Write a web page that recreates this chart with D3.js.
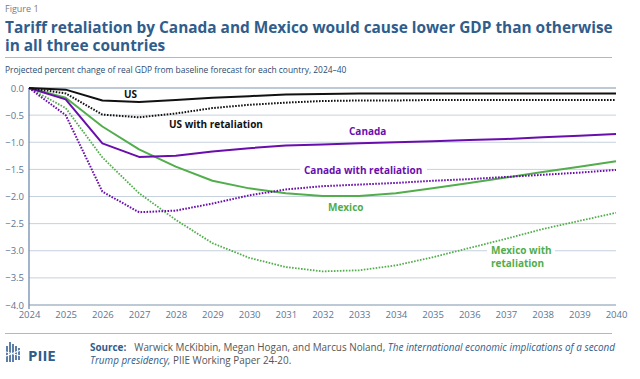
<!DOCTYPE html>
<html><head><meta charset="utf-8">
<script src="https://cdn.jsdelivr.net/npm/d3@7"></script>
<style>
html,body{margin:0;padding:0;background:#fff;}
svg{display:block;font-family:"Open Sans",Lato,sans-serif;}
</style></head>
<body>
<svg id="chart" width="640" height="379"></svg>
<script>
const years = [2024,2025,2026,2027,2028,2029,2030,2031,2032,2033,2034,2035,2036,2037,2038,2039,2040];
const us        = [0,-0.03,-0.23,-0.26,-0.22,-0.18,-0.15,-0.12,-0.11,-0.10,-0.10,-0.10,-0.10,-0.10,-0.10,-0.10,-0.10];
const usRet     = [0,-0.10,-0.49,-0.54,-0.47,-0.37,-0.31,-0.27,-0.24,-0.23,-0.23,-0.22,-0.22,-0.22,-0.22,-0.22,-0.22];
const canada    = [0,-0.21,-1.02,-1.27,-1.25,-1.17,-1.11,-1.06,-1.04,-1.02,-1.00,-0.98,-0.96,-0.94,-0.91,-0.88,-0.85];
const canadaRet = [0,-0.50,-1.91,-2.29,-2.26,-2.13,-1.98,-1.87,-1.81,-1.78,-1.75,-1.71,-1.68,-1.64,-1.60,-1.56,-1.51];
const mexico    = [0,-0.18,-0.71,-1.13,-1.45,-1.71,-1.85,-1.94,-1.99,-1.99,-1.94,-1.85,-1.75,-1.65,-1.55,-1.45,-1.35];
const mexicoRet = [0,-0.37,-1.28,-1.94,-2.43,-2.86,-3.13,-3.30,-3.38,-3.36,-3.27,-3.12,-2.95,-2.78,-2.60,-2.45,-2.30];
const yTicks = [0,-0.5,-1,-1.5,-2,-2.5,-3,-3.5,-4];

const BLUE = "#2f5d8c", PURPLE = "#6a0dad", GREEN = "#52ad4c", BLACK = "#111111";
const svg = d3.select("#chart");
const x = d3.scaleLinear().domain([2024,2040]).range([29,616]);
const y = d3.scaleLinear().domain([-4,0]).range([305,88]);

function fitNode(node, fs, target){
  const w = node.getComputedTextLength();
  return fs*target/w;
}

// header
svg.append("text").attr("x",5).attr("y",12).attr("font-size",9).attr("fill","#7a7a7a").text("Figure 1");
const title = svg.append("text").attr("font-size",16).attr("font-weight",700).attr("fill",BLUE);
const tl1 = title.append("tspan").attr("x",5).attr("y",33)
  .text("Tariff retaliation by Canada and Mexico would cause lower GDP than otherwise");
const tfs = fitNode(tl1.node(), 16, 608);
title.attr("font-size", tfs.toFixed(2));
title.append("tspan").attr("x",5).attr("y",50.5).text("in all three countries");
svg.append("line").attr("x1",5).attr("x2",612).attr("y1",57.5).attr("y2",57.5).attr("stroke","#aab9cc").attr("stroke-width",1);
const sub = svg.append("text").attr("x",5).attr("y",73).attr("font-size",10).attr("fill","#2b4a6f")
  .text("Projected percent change of real GDP from baseline forecast for each country, 2024\u201340");
sub.attr("font-size", fitNode(sub.node(), 10, 342).toFixed(2));

// grid
const g = svg.append("g");
g.selectAll("line.grid").data(yTicks).join("line")
  .attr("x1",29).attr("x2",616).attr("y1",d=>y(d)).attr("y2",d=>y(d))
  .attr("stroke",d=> (d===0||d===-4) ? "#a9b7c9" : "#c6d1de").attr("stroke-width",d=> (d===0||d===-4)?1.6:1);
g.append("line").attr("x1",29).attr("x2",29).attr("y1",y(0)).attr("y2",y(-4)+4).attr("stroke","#6f8db0").attr("stroke-width",1.3);

// axes labels
const yAxis = d3.axisLeft(y).tickValues(yTicks).tickSize(0).tickPadding(5).tickFormat(d3.format(".1f"));
const ya = svg.append("g").attr("transform","translate(29,0)").call(yAxis);
ya.select(".domain").remove();
ya.selectAll("text").attr("font-size",9.5).attr("fill","#5b7696").attr("font-family","'Open Sans',sans-serif")
  .text(d=> d===0 ? "0.0" : "\u2212"+Math.abs(d).toFixed(1));
const xAxis = d3.axisBottom(x).tickValues(years).tickSize(0).tickPadding(6).tickFormat(d3.format("d"));
const xa = svg.append("g").attr("transform","translate(0,305)").call(xAxis);
xa.select(".domain").remove();
xa.selectAll("text").attr("font-size",9.5).attr("fill","#5b7696").attr("font-family","'Open Sans',sans-serif");

// label backgrounds (break gridlines)
function bg(cx, cy, w, h){ svg.append("rect").attr("x",cx).attr("y",cy).attr("width",w).attr("height",h).attr("fill","#fff"); }
bg(300,164,127,10);
bg(487,246,68,10);

// lines
const line = d3.line().x((d,i)=>x(years[i])).y(d=>y(d));
const series = [
  {v:mexicoRet, c:GREEN, dash:"1.6,1.4", w:1.8},
  {v:mexico, c:GREEN, dash:null, w:2},
  {v:canadaRet, c:PURPLE, dash:"1.6,1.4", w:2},
  {v:canada, c:PURPLE, dash:null, w:2},
  {v:usRet, c:BLACK, dash:"1.6,1.4", w:2},
  {v:us, c:BLACK, dash:null, w:2}
];
svg.selectAll("path.s").data(series).join("path")
  .attr("d",d=>line(d.v)).attr("fill","none").attr("stroke",d=>d.c).attr("stroke-width",d=>d.w)
  .attr("stroke-dasharray",d=>d.dash).attr("stroke-linejoin","round");

// line labels
const labels = [
  {t:"US", x:124, y:98, c:BLACK},
  {t:"US with retaliation", x:169, y:128, c:BLACK},
  {t:"Canada", x:349, y:135, c:PURPLE},
  {t:"Canada with retaliation", x:304, y:174, c:PURPLE},
  {t:"Mexico", x:328, y:211, c:GREEN},
  {t:"Mexico with", x:491, y:253.5, c:GREEN},
  {t:"retaliation", x:491, y:267, c:GREEN}
];
svg.selectAll("text.lab").data(labels).join("text").attr("class","lab")
  .attr("x",d=>d.x).attr("y",d=>d.y).attr("fill",d=>d.c).attr("font-size",10).attr("font-weight",700).text(d=>d.t);

// footer
svg.append("line").attr("x1",5).attr("x2",612).attr("y1",333.5).attr("y2",333.5).attr("stroke","#aab9cc").attr("stroke-width",1);
const logo = svg.append("g").attr("transform","translate(6,342)");
[[0,4,2,16],[3,0,2,20],[6,2,2,18],[9,4,2,14],[12,6,2,12]].forEach(r=>{
  logo.append("rect").attr("x",r[0]).attr("y",r[1]).attr("width",r[2]).attr("height",r[3]).attr("fill","#5b7fa8");
});
logo.append("line").attr("x1",0).attr("y1",14).attr("x2",15).attr("y2",8).attr("stroke","#fff").attr("stroke-width",1.2);
logo.append("line").attr("x1",0).attr("y1",10).attr("x2",15).attr("y2",14).attr("stroke","#fff").attr("stroke-width",1);
svg.append("text").attr("x",28).attr("y",361).attr("font-size",15).attr("font-weight",700).attr("fill",BLUE).text("PIIE");

const s1 = svg.append("text").attr("x",90).attr("y",351).attr("font-size",9.2).attr("fill","#555");
s1.append("tspan").attr("font-weight",700).attr("fill",BLUE).text("Source:");
s1.append("tspan").attr("dx",8).text("Warwick McKibbin, Megan Hogan, and Marcus Noland, ");
s1.append("tspan").attr("font-style","italic").attr("fill",BLUE).text("The international economic implications of a second");
const sfs = fitNode(s1.node(), 9.2, 517);
s1.attr("font-size", sfs.toFixed(2));
const s2 = svg.append("text").attr("x",90).attr("y",364).attr("font-size",sfs.toFixed(2)).attr("fill","#555");
s2.append("tspan").attr("font-style","italic").attr("fill",BLUE).text("Trump presidency,");
s2.append("tspan").text(" PIIE Working Paper 24-20.");
</script>
</body></html>
